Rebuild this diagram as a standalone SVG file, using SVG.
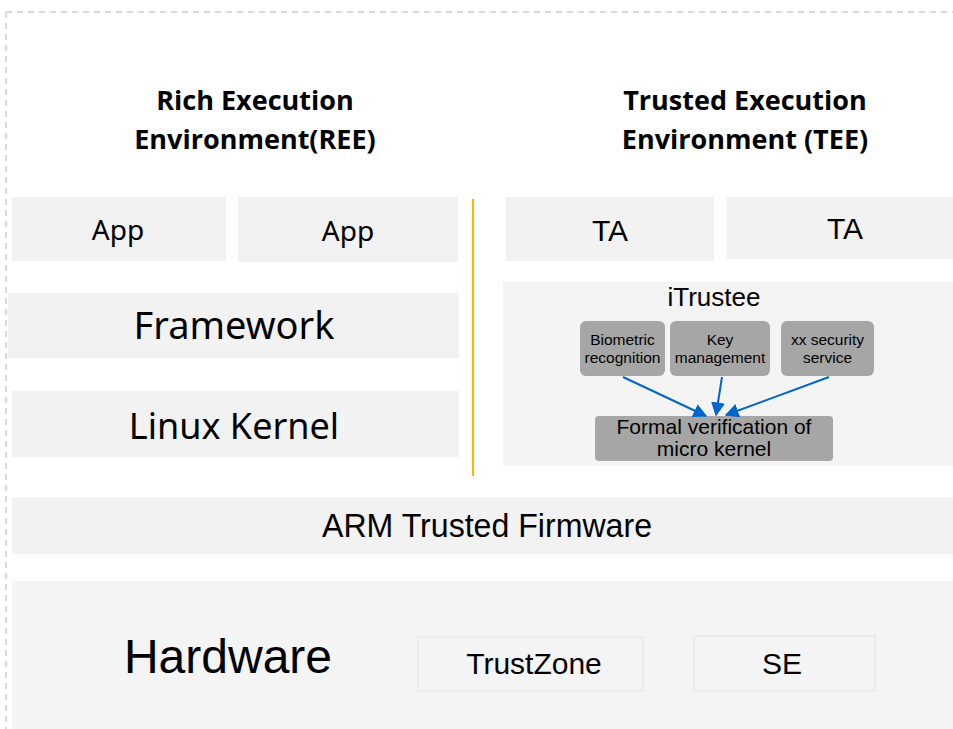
<svg xmlns="http://www.w3.org/2000/svg" width="953" height="729" viewBox="0 0 953 729">
<style>
.box{fill:#f2f2f2}
.hw{fill:#f4f4f4}
.sub{fill:#f4f4f4;stroke:#e4e4e4;stroke-width:1.2}
.gbox{fill:#a6a6a6}
.t{font-family:"Noto Sans","Open Sans",sans-serif;fill:#000;text-anchor:middle}
.a{font-family:"Liberation Sans",Arial,sans-serif;fill:#000;text-anchor:middle}
.h{font-family:"Open Sans","Noto Sans",sans-serif;font-weight:bold;fill:#000;text-anchor:middle;font-size:27px}
.conn{stroke:#0066cc;stroke-width:2;fill:none;marker-end:url(#arr)}
</style>
<defs>
<marker id="arr" viewBox="0 0 10 10" refX="9" refY="5" markerWidth="7" markerHeight="7" orient="auto" markerUnits="strokeWidth">
<path d="M0,0 L10,5 L0,10 z" fill="#0066cc"/>
</marker>
</defs>
<rect width="953" height="729" fill="#fff"/>
<g id="frame" stroke="#d9d9d9" stroke-width="2" stroke-dasharray="6,5" fill="none">
<line x1="6" y1="12" x2="953" y2="12"/>
<line x1="6" y1="12" x2="6" y2="729"/>
</g>
<g id="ree-title">
<text class="h" x="255" y="110">Rich Execution</text>
<text class="h" x="255" y="149">Environment(REE)</text>
</g>
<g id="tee-title">
<text class="h" x="745" y="110">Trusted Execution</text>
<text class="h" x="745" y="149">Environment (TEE)</text>
</g>
<g id="app1"><rect class="box" x="12" y="197" width="214" height="64"/><text class="t" x="118" y="240" font-size="28">App</text></g>
<g id="app2"><rect class="box" x="238" y="197" width="220" height="65"/><text class="t" x="348" y="241" font-size="28">App</text></g>
<g id="framework"><rect class="box" x="8" y="293" width="451" height="65"/><text class="t" x="234" y="339" font-size="38">Framework</text></g>
<g id="kernel"><rect class="box" x="12" y="391" width="447" height="66"/><text class="t" x="234" y="439" font-size="36">Linux Kernel</text></g>
<g id="divider"><line x1="473" y1="199" x2="473" y2="476" stroke="#f5b800" stroke-width="2"/></g>
<g id="ta1"><rect class="box" x="506" y="197" width="208" height="64"/><text class="a" x="610" y="241" font-size="30">TA</text></g>
<g id="ta2"><rect class="box" x="727" y="197" width="226" height="62"/><text class="a" x="845" y="239" font-size="30">TA</text></g>
<g id="itrustee"><rect class="hw" x="503" y="282" width="450" height="184"/><text class="a" x="714" y="306" font-size="26">iTrustee</text></g>
<g id="bio"><rect class="gbox" x="580" y="321" width="85" height="55" rx="6"/><text class="a" x="622.5" y="345" font-size="15.5">Biometric</text><text class="a" x="622.5" y="363" font-size="15.5">recognition</text></g>
<g id="key"><rect class="gbox" x="670" y="321" width="100" height="55" rx="6"/><text class="a" x="720" y="345" font-size="15.5">Key</text><text class="a" x="720" y="363" font-size="15.5">management</text></g>
<g id="xx"><rect class="gbox" x="781" y="321" width="93" height="55" rx="6"/><text class="a" x="827.5" y="345" font-size="15.5">xx security</text><text class="a" x="827.5" y="363" font-size="15.5">service</text></g>
<g id="formal"><rect class="gbox" x="595" y="416" width="238" height="45" rx="4"/><text class="a" x="714" y="434" font-size="21">Formal verification of</text><text class="a" x="714" y="456" font-size="21">micro kernel</text></g>
<g id="connectors">
<line class="conn" x1="623" y1="377" x2="706" y2="416"/>
<line class="conn" x1="722" y1="377" x2="716" y2="415"/>
<line class="conn" x1="829" y1="377" x2="726" y2="415"/>
</g>
<g id="atf"><rect class="box" x="12" y="497" width="941" height="57"/><text class="a" x="487" y="537" font-size="33" textLength="330" lengthAdjust="spacingAndGlyphs">ARM Trusted Firmware</text></g>
<g id="hardware"><rect class="hw" x="12" y="581" width="941" height="148"/><text class="a" x="228" y="673" font-size="48">Hardware</text></g>
<g id="trustzone"><rect class="sub" x="418" y="637" width="225" height="54"/><text class="a" x="534" y="674" font-size="30">TrustZone</text></g>
<g id="se"><rect class="sub" x="694" y="636" width="181" height="55"/><text class="a" x="782" y="674" font-size="30">SE</text></g>
</svg>
